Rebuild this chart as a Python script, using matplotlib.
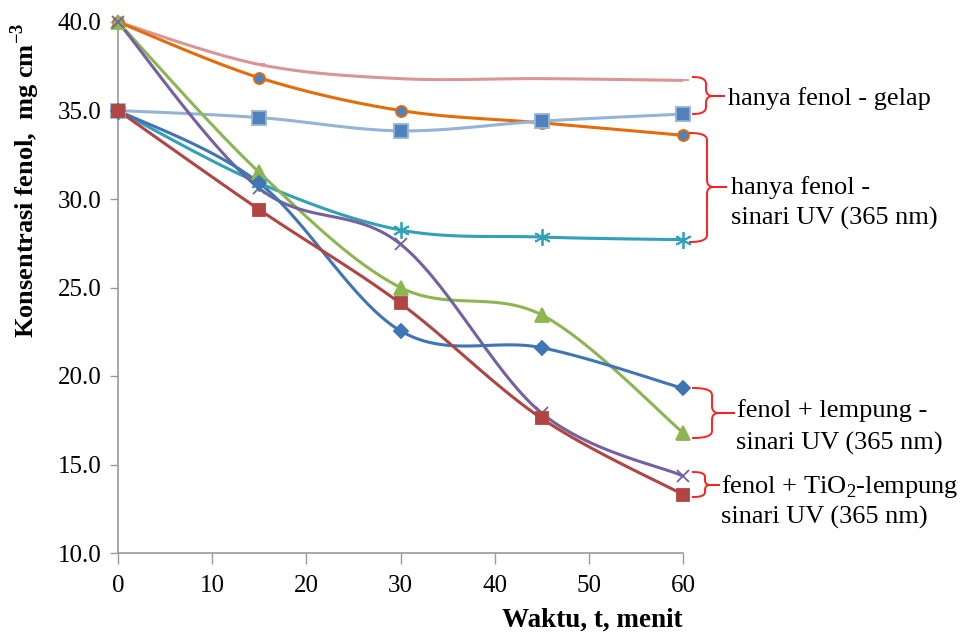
import numpy as np
import matplotlib.pyplot as plt

plt.rcParams['font.family'] = ['Liberation Serif', 'DejaVu Serif']
plt.rcParams['mathtext.fontset'] = 'custom'
plt.rcParams['mathtext.rm'] = 'Liberation Serif'
plt.rcParams['mathtext.bf'] = 'Liberation Serif:bold'

# waktu (menit)
t = [0, 15, 30, 45, 60]

# konsentrasi fenol (mg cm-3)
gelap_40 = [40.0, 37.6, 36.8, 36.8, 36.7]
gelap_35 = [35.0, 34.6, 33.85, 34.4, 34.8]
uv_40 = [40.0, 36.85, 35.0, 34.3, 33.6]
uv_35 = [35.0, 30.9, 28.25, 27.85, 27.7]
lempung_35 = [35.0, 30.9, 22.55, 21.6, 19.3]
lempung_40 = [40.0, 31.5, 25.0, 23.45, 16.8]
tio2_40 = [40.0, 30.6, 27.45, 17.9, 14.35]
tio2_35 = [35.0, 29.4, 24.1, 17.6, 13.3]

x_ticks = [0, 10, 20, 30, 40, 50, 60]
y_ticks = [10, 15, 20, 25, 30, 35, 40]


def smooth(x, y, n=30):
    # Excel-style smoothed line (cubic bezier through the points)
    x = np.asarray(x, float)
    y = np.asarray(y, float)
    px = np.concatenate([[x[0]], x, [x[-1]]])
    py = np.concatenate([[y[0]], y, [y[-1]]])
    xs, ys = [], []
    s = np.linspace(0, 1, n)[:, None]
    for i in range(len(x) - 1):
        p0 = np.array([px[i + 1], py[i + 1]])
        p3 = np.array([px[i + 2], py[i + 2]])
        p1 = p0 + (p3 - np.array([px[i], py[i]])) / 6
        p2 = p3 - (np.array([px[i + 3], py[i + 3]]) - p0) / 6
        b = (1 - s) ** 3 * p0 + 3 * (1 - s) ** 2 * s * p1 \
            + 3 * (1 - s) * s ** 2 * p2 + s ** 3 * p3
        xs.extend(b[:, 0])
        ys.extend(b[:, 1])
    return xs, ys


W, H = 967, 635
fig = plt.figure(figsize=(W / 100, H / 100), dpi=100)
ax = fig.add_axes([118 / W, 1 - 553 / H, 565 / W, 531 / H])

series = [
    (gelap_40, '#D99694', '_', '#D99694', '#D99694', 8),
    (uv_40, '#E46C0A', 'o', '#4F81BD', '#E46C0A', 8),
    (gelap_35, '#95B3D7', 's', '#4F81BD', '#95B3D7', 10),
    (uv_35, '#31A0B8', (6, 2, 0), '#31A0B8', '#31A0B8', 12),
    (lempung_40, '#8DB552', '^', '#8DB552', '#8DB552', 10),
    (tio2_40, '#7560A0', 'x', '#7560A0', '#7560A0', 9),
    (lempung_35, '#3F75B5', 'D', '#3F75B5', '#3F75B5', 7),
    (tio2_35, '#B04542', 's', '#B04542', '#B04542', 9),
]

for ys, col, mk, fc, ec, ms in series:
    sx, sy = smooth(t, ys)
    ax.plot(sx, sy, color=col, lw=2.2, solid_capstyle='round', zorder=2)
    ax.plot(t, ys, ls='none', marker=mk, markersize=ms, markerfacecolor=fc,
            markeredgecolor=ec, markeredgewidth=1.3, zorder=3, clip_on=False)

ax.set_xlim(0, 60)
ax.set_ylim(10, 40)
ax.set_xticks(x_ticks)
ax.set_yticks(y_ticks)
ax.set_yticklabels([f"{v:.1f}" for v in y_ticks])
ax.tick_params(axis='both', labelsize=18, color='#9a9a9a', width=1)
ax.tick_params(axis='x', length=8, pad=8)
ax.tick_params(axis='y', length=6, pad=6)
for sp in ['top', 'right']:
    ax.spines[sp].set_visible(False)
for sp in ['left', 'bottom']:
    ax.spines[sp].set_color('#9a9a9a')
    ax.spines[sp].set_linewidth(1.2)

# overlay in pixel coordinates for labels and braces
ov = fig.add_axes([0, 0, 1, 1], facecolor='none')
ov.set_xlim(0, W)
ov.set_ylim(H, 0)
ov.axis('off')

ov.text(683, 620, "Waktu, t, menit", fontsize=19.5, fontweight='bold',
        ha='right', va='center')
ov.text(25, 180, "Konsentrasi fenol,  mg cm$^{\\mathbf{-3}}$", fontsize=19,
        fontweight='bold', rotation=90, ha='center', va='center')


def qbez(p0, c, p2, n=12):
    s = np.linspace(0, 1, n)[:, None]
    p0, c, p2 = np.array(p0), np.array(c), np.array(p2)
    return (1 - s) ** 2 * p0 + 2 * (1 - s) * s * c + s ** 2 * p2


def brace(x_end, x_mid, x_tip, y_top, y_bot, y_tip, r=7):
    pts = np.vstack([
        qbez((x_end, y_top), (x_mid, y_top), (x_mid, y_top + r)),
        qbez((x_mid, y_tip - r), (x_mid, y_tip), (x_mid + r, y_tip)),
        [(x_tip, y_tip)],
    ])
    pts2 = np.vstack([
        qbez((x_end, y_bot), (x_mid, y_bot), (x_mid, y_bot - r)),
        qbez((x_mid, y_tip + r), (x_mid, y_tip), (x_mid + r, y_tip)),
        [(x_tip, y_tip)],
    ])
    for p in (pts, pts2):
        ov.plot(p[:, 0], p[:, 1], color='#FF2020', lw=1.4)


brace(693, 706, 724, 77, 114, 96)
brace(690, 707, 726, 133, 242, 187)
brace(693, 712, 734, 388, 438, 413)
brace(693, 705, 719, 472, 497, 485, r=5)

fs = 19
ov.text(728, 99, "hanya fenol - gelap", fontsize=fs, ha='left', va='center')
ov.text(731, 188, "hanya fenol -", fontsize=fs, ha='left', va='center')
ov.text(731, 218, "sinari UV (365 nm)", fontsize=fs, ha='left', va='center')
ov.text(737, 411, "fenol + lempung -", fontsize=fs, ha='left', va='center')
ov.text(736, 443, "sinari UV (365 nm)", fontsize=fs, ha='left', va='center')
ov.text(721, 486, "fenol + TiO$_2$-lempung", fontsize=fs, ha='left', va='center')
ov.text(721, 517, "sinari UV (365 nm)", fontsize=fs, ha='left', va='center')

fig.savefig("out.png", dpi=100)
